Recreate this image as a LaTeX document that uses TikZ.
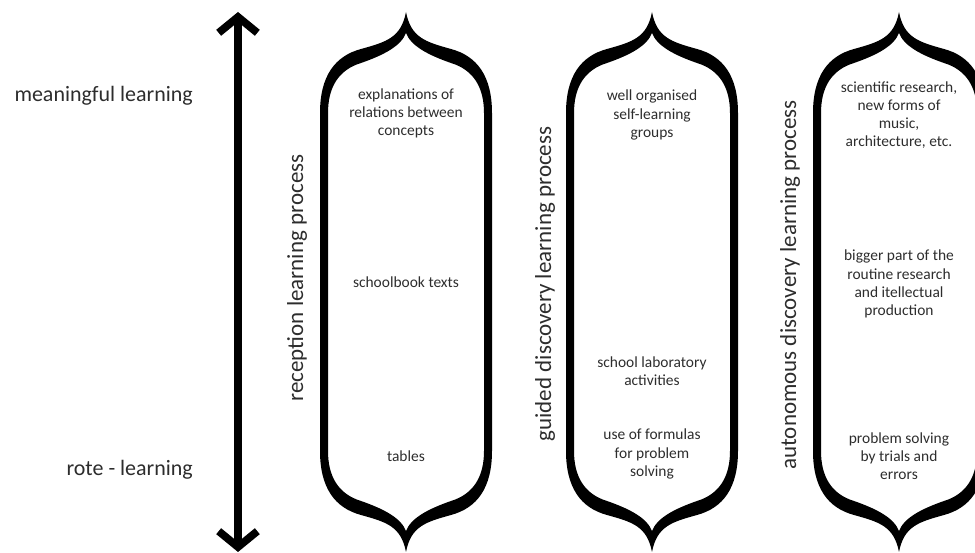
\documentclass[tikz,border=0pt]{standalone}
\usepackage{fontspec}
\setmainfont{Carlito}
\usetikzlibrary{arrows.meta, positioning}
\definecolor{lrnInk}{RGB}{45,45,45}

\begin{document}
\begin{tikzpicture}[x=0.02cm, y=-0.02cm,
    axislabel/.style={font=\fontsize{12.5}{15}\selectfont, text=lrnInk},
    proclabel/.style={font=\fontsize{13.1}{15}\selectfont, text=lrnInk, rotate=90},
    example/.style={font=\fontsize{8.8}{10.3}\selectfont, text=lrnInk, align=center}]
        \useasboundingbox (0,0) rectangle (975,553);
        \clip (0,0) rectangle (975,553);
        % the three closed braces
        \foreach \cx in {406,652,899}{
          \fill[even odd rule, shift={(\cx,0)}]
            (-86,451) -- (-86,113) .. controls (-86,76) and (-71,56) .. (-45,49)
            .. controls (-20,42) and (-5,38) .. (0,12)
            .. controls (5,38) and (20,42) .. (45,49)
            .. controls (71,56) and (86,76) .. (86,113) -- (86,451)
            .. controls (86,488) and (71,508) .. (45,515)
            .. controls (20,522) and (5,526) .. (0,552)
            .. controls (-5,526) and (-20,522) .. (-45,515)
            .. controls (-71,508) and (-86,488) .. (-86,451) -- cycle
            (-78,451) -- (-78,113) .. controls (-78,88) and (-68,70) .. (-45,63)
            .. controls (-22,55) and (-5,46) .. (0,33)
            .. controls (5,46) and (22,55) .. (45,63)
            .. controls (68,70) and (78,88) .. (78,113) -- (78,451)
            .. controls (78,476) and (68,494) .. (45,501)
            .. controls (22,509) and (5,518) .. (0,531)
            .. controls (-5,518) and (-22,509) .. (-45,501)
            .. controls (-68,494) and (-78,476) .. (-78,451) -- cycle;
        }
        % scale arrow
        \coordinate (high) at (238,12);
        \coordinate (low) at (238,552);
        \draw[line width=4.4pt,
          {Straight Barb[length=9pt, width=22pt]}-{Straight Barb[length=9pt, width=22pt]}]
          (high) -- (low);
        \node[axislabel, anchor=east] (meaningful) at (199,96) {meaningful learning};
        \node[axislabel, anchor=east] (rote) at (199,470) {rote - learning};
        \node[proclabel] (reception) at (297,278) {reception learning process};
        \node[proclabel] (guided) at (545,284) {guided discovery learning process};
        \node[proclabel] (autonomous) at (790,285) {autonomous discovery learning process};
        % examples inside the braces
        \node[example] (explain) at (406,113) {explanations of\\relations between\\concepts};
        \node[example] (schoolbook) at (406,282) {schoolbook texts};
        \node[example] (tables) at (406,456) {tables};
        \node[example] (selfgroups) at (652,115) {well organised\\self-learning\\groups};
        \node[example] (laboratory) at (652,371) {school laboratory\\activities};
        \node[example] (formulas) at (652,454) {use of formulas\\for problem\\solving};
        \node[example] (science) at (899,115) {scientific research,\\new forms of\\music,\\architecture, etc.};
        \node[example] (routine) at (899,284) {bigger part of the\\routine research\\and itellectual\\production};
        \node[example] (trials) at (899,456) {problem solving\\by trials and\\errors};
      \end{tikzpicture}
\end{document}
